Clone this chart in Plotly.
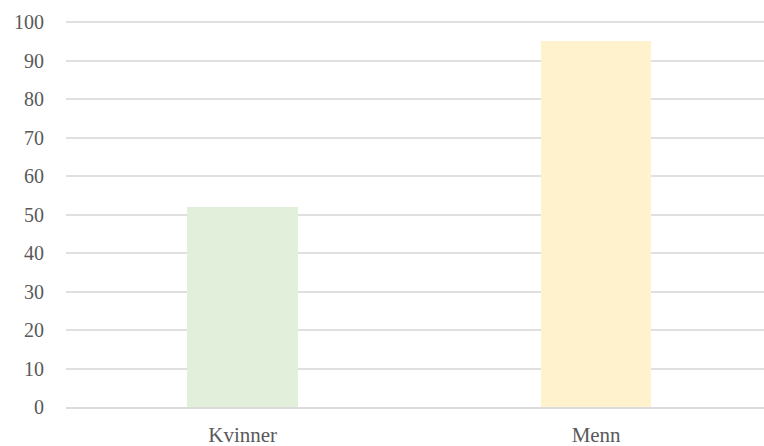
import plotly.graph_objects as go

categories = ["Kvinner", "Menn"]
values = [52, 95]
colors = ["#E2EFDA", "#FFF2CC"]
y_ticks = list(range(0, 101, 10))

fig = go.Figure(go.Bar(
    x=categories, y=values, marker=dict(color=colors, line=dict(width=0)),
    width=0.3126,
))

fig.update_layout(
    width=764, height=446,
    margin=dict(l=66, r=0, t=21, b=38.5),
    plot_bgcolor="white", paper_bgcolor="white",
    font=dict(family="Liberation Serif, Times New Roman, serif", size=20, color="#595959"),
    showlegend=False,
    bargap=0,
)
fig.update_xaxes(range=[-0.5, 1.475], showgrid=False, showline=True, linecolor="#DCDCDC",
                 linewidth=1.5, ticks="", ticklabelstandoff=8, tickfont=dict(size=21))
fig.update_yaxes(range=[0, 100.3], tickvals=y_ticks, showgrid=True, gridcolor="#E0E0E0",
                 gridwidth=1.5, zeroline=False, ticks="", ticklabelstandoff=21)

fig.write_html("out.html")
